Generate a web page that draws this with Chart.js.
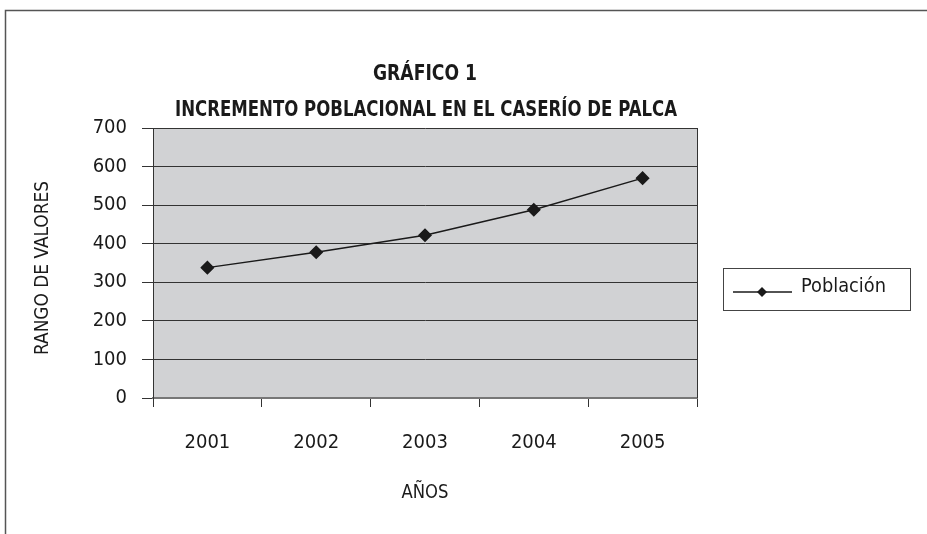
<!DOCTYPE html>
<html><head><meta charset="utf-8">
<script src="https://cdn.jsdelivr.net/npm/chart.js@4/dist/chart.umd.min.js"></script>
<style>html,body{margin:0;padding:0;background:#fff}#wrap{width:927px;height:534px}</style>
</head><body><div id="wrap"><canvas id="c" width="927" height="534"></canvas></div>
<script>
const categories = ['2001','2002','2003','2004','2005'];
const poblacion = [338, 378, 422, 488, 570];
const yTicks = [0,100,200,300,400,500,600,700];
const titleLines = ['GRÁFICO 1','INCREMENTO POBLACIONAL EN EL CASERÍO DE PALCA'];
const xTitle = 'AÑOS';
const yTitle = 'RANGO DE VALORES';
const seriesLabel = 'Población';

const FONT = "'DejaVu Sans Condensed', 'DejaVu Sans', sans-serif";

function fitText(ctx, text, cx, cy, targetW, align){
  const w = ctx.measureText(text).width;
  const s = targetW / w;
  ctx.save();
  ctx.translate(cx, cy);
  ctx.scale(s, 1);
  ctx.textAlign = align || 'center';
  ctx.fillText(text, 0, 0);
  ctx.restore();
}

const deco = {
  id:'deco',
  beforeDraw(chart){
    const {ctx, chartArea:a} = chart;
    ctx.save();
    ctx.fillStyle='#fff'; ctx.fillRect(0,0,chart.width,chart.height);
    ctx.fillStyle='#d1d2d4'; ctx.fillRect(a.left,a.top,a.right-a.left,a.bottom-a.top);
    ctx.restore();
  },
  afterDraw(chart){
    const {ctx, chartArea:a} = chart;
    ctx.save();
    ctx.strokeStyle='#555'; ctx.lineWidth=1.5;
    ctx.strokeRect(5.5,10.5,940,540);
    ctx.strokeStyle='#333'; ctx.lineWidth=1;
    ctx.beginPath(); ctx.moveTo(a.right+0.5,a.top); ctx.lineTo(a.right+0.5,a.bottom); ctx.stroke();
    ctx.fillStyle='#1a1a1a'; ctx.textBaseline='middle';
    ctx.font = "bold 21px " + FONT;
    fitText(ctx, titleLines[0], 425, 75, 104);
    fitText(ctx, titleLines[1], 426, 111, 502);
    ctx.font = "19px " + FONT;
    fitText(ctx, xTitle, 425, 493, 47);
    ctx.save(); ctx.translate(43,268); ctx.rotate(-Math.PI/2); fitText(ctx, yTitle, 0, 0, 174); ctx.restore();
    ctx.strokeStyle='#444'; ctx.lineWidth=1;
    ctx.strokeRect(723.5,268.5,187,42);
    const ds = chart.data.datasets[0];
    ctx.strokeStyle=ds.borderColor; ctx.lineWidth=ds.borderWidth;
    ctx.beginPath(); ctx.moveTo(733,292); ctx.lineTo(792,292); ctx.stroke();
    ctx.fillStyle=ds.pointBackgroundColor;
    ctx.beginPath(); ctx.moveTo(762,287); ctx.lineTo(767,292); ctx.lineTo(762,297); ctx.lineTo(757,292); ctx.closePath(); ctx.fill();
    ctx.fillStyle='#1a1a1a';
    ctx.font = "20px " + FONT;
    fitText(ctx, ds.label, 801, 287, 85, 'left');
    ctx.restore();
  }
};

new Chart(document.getElementById('c'), {
  type:'line',
  data:{labels:categories, datasets:[{label:seriesLabel, data:poblacion, borderColor:'#1a1a1a', borderWidth:1.5,
    pointStyle:'rectRot', pointRadius:6, pointBackgroundColor:'#1a1a1a', pointBorderColor:'#1a1a1a', tension:0}]},
  options:{
    responsive:false, animation:false, devicePixelRatio:1,
    layout:{padding:{top:128, right:230, left:0, bottom:0}},
    plugins:{legend:{display:false}, title:{display:false}, tooltip:{enabled:false}},
    scales:{
      x:{offset:true, grid:{offset:true, drawOnChartArea:false, drawTicks:true, tickLength:9, color:'#333'},
        border:{color:'#777', width:2},
        ticks:{font:{family:FONT, size:20}, color:'#1a1a1a', padding:24},
        afterFit(s){ s.height = 136; }},
      y:{min:0, max:700, afterBuildTicks(s){ s.ticks = yTicks.map(v=>({value:v})); },
        grid:{color:'#333', lineWidth:1, tickLength:11},
        border:{color:'#333', width:1},
        ticks:{font:{family:FONT, size:20}, color:'#1a1a1a', padding:15},
        afterFit(s){ s.width = 153; }}
    }
  },
  plugins:[deco]
});
</script></body></html>
